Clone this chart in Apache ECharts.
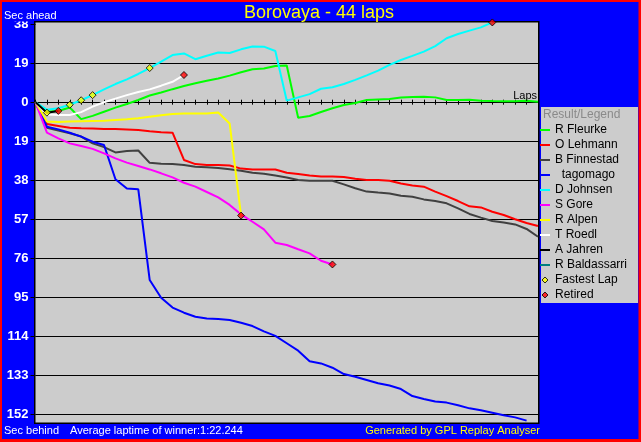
<!DOCTYPE html>
<html>
<head>
<meta charset="utf-8">
<script src="https://cdn.jsdelivr.net/npm/echarts@6/dist/echarts.min.js"></script>
<style>html,body{margin:0;padding:0;background:#ff0000;}#c{width:641px;height:442px;}</style>
</head>
<body>
<div id="c"></div>
<script>
// ---- data (seconds relative to winner's average pace; negative = behind) ----
const title = 'Borovaya - 44 laps';
const yTicks = [38, 19, 0, 19, 38, 57, 76, 95, 114, 133, 152];
const drivers = ['R Fleurke', 'O Lehmann', 'B Finnestad', '  tagomago', 'D Johnsen', 'S Gore', 'R Alpen', 'T Roedl', 'A Jahren', 'R Baldassarri'];
const colors = ['#00ff00', '#ff0000', '#404040', '#0000ff', '#00ffff', '#ff00ff', '#ffff00', '#ffffff', '#000000', '#008080'];

const fleurke = [0, -4.5, -4.2, -2.5, -8.2, -6.6, -4.6, -2.6, -0.8, 1.1, 3.3, 4.8, 6.4, 7.9, 9.3, 10.5, 11.6, 13.0, 14.6, 16.1, 16.5, 17.7, 17.9, -7.5, -6.7, -4.7, -2.9, -1.3, -0.3, 1.1, 1.4, 1.6, 2.3, 2.6, 2.7, 2.4, 1.1, 1.1, 1.3, 0.8, 0.6, 0.5, 0.5, 0.8, 0.3];
const lehmann = [0, -10.6, -11.5, -12.4, -12.7, -12.8, -13.0, -13.0, -13.2, -13.5, -14.1, -14.6, -14.8, -28.1, -30.1, -30.5, -30.6, -30.8, -32.3, -32.7, -32.7, -32.7, -34.3, -34.9, -35.7, -36.2, -36.2, -36.4, -37.2, -37.9, -37.9, -38.2, -39.6, -40.5, -41.1, -43.5, -45.7, -48.1, -50.7, -51.2, -53.3, -54.9, -57.0, -58.8, -60.3];
const finnestad = [0, -12.4, -13.8, -15.1, -16.7, -20.0, -21.8, -24.4, -23.7, -23.5, -29.5, -29.9, -30.1, -30.5, -31.4, -31.7, -32.0, -32.6, -33.3, -34.3, -34.8, -35.7, -36.6, -37.9, -38.2, -38.2, -38.2, -40.0, -41.9, -43.5, -44.0, -44.4, -45.5, -46.0, -47.3, -48.1, -49.2, -51.7, -54.4, -56.2, -57.8, -58.6, -59.5, -61.7, -65.5];
const tagomago = [0, -11.9, -13.2, -14.8, -16.7, -19.2, -20.8, -37.5, -42.0, -42.4, -86.6, -95.2, -100.0, -102.5, -104.5, -105.3, -105.6, -106.1, -107.4, -109.0, -111.6, -113.8, -117.4, -121.0, -126.2, -127.2, -129.3, -132.4, -133.7, -135.3, -136.9, -138.0, -139.7, -143.1, -144.5, -145.8, -146.3, -147.6, -149.1, -150.0, -151.2, -152.5, -153.5, -155.1];
const johnsen = [0, -3.6, -2.9, -1.2, 1.0, 3.5, 6.3, 8.9, 11.2, 13.8, 16.7, 19.8, 23.0, 23.8, 21.0, 22.7, 24.3, 24.0, 25.8, 27.2, 27.1, 25.0, 0.8, 2.4, 4.0, 6.6, 7.3, 8.9, 10.9, 13.1, 15.4, 18.2, 20.6, 22.6, 24.7, 27.4, 31.2, 33.3, 34.9, 36.5, 38.9];
const gore = [0, -14.8, -17.6, -20.0, -21.3, -22.7, -24.9, -27.3, -29.4, -31.0, -32.7, -34.6, -36.6, -39.2, -41.1, -43.7, -46.3, -50.0, -54.6, -58.2, -61.9, -68.4, -69.5, -71.6, -73.6, -77.2, -79.0];
const alpen = [0, -9.4, -9.6, -9.4, -9.2, -9.1, -9.0, -8.6, -8.3, -7.8, -7.0, -6.3, -5.7, -5.4, -5.4, -5.4, -5.0, -10.3, -55.2];
const roedl = [0, -6.0, -6.2, -6.2, -4.8, -2.1, 0.0, 1.8, 3.5, 5.0, 6.3, 8.1, 10.0, 13.3];
const jahren = [0, -5.05, -4.2];
const baldassarri = [];

const fastestLapLaps = [1, 3, 4, 5, 10];
const fastestLapGaps = [-5.05, -1.2, 1.0, 3.5, 16.7];
const retiredLaps = [2, 13, 18, 26, 40];
const retiredGaps = [-4.2, 13.3, -55.2, -79.0, 38.9];

// ---- chart ----
const FONT = "'Liberation Sans', Arial, sans-serif";
const lines = [fleurke, lehmann, finnestad, tagomago, johnsen, gore, alpen, roedl, jahren, baldassarri];
const LINE_ICON = 'path://M0,0H10V2H0Z';
const DIAMOND_ICON = 'path://M5,0L10,5L5,10L0,5Z';

const series = lines.map((arr, i) => ({
  name: drivers[i],
  type: 'line',
  data: arr.map((v, lap) => [lap, v]),
  symbol: 'none',
  clip: false,
  silent: true,
  lineStyle: { width: 2, color: colors[i] },
  itemStyle: { color: colors[i] },
  emphasis: { disabled: true }
}));
series.push({
  name: 'Fastest Lap', type: 'scatter', symbol: 'diamond', symbolSize: 7, clip: false, silent: true, z: 5,
  data: fastestLapLaps.map((l, i) => [l, fastestLapGaps[i]]),
  itemStyle: { color: '#ffff00', borderColor: '#000', borderWidth: 1 }
});
series.push({
  name: 'Retired', type: 'scatter', symbol: 'diamond', symbolSize: 7, clip: false, silent: true, z: 5,
  data: retiredLaps.map((l, i) => [l, retiredGaps[i]]),
  itemStyle: { color: '#ff0000', borderColor: '#000', borderWidth: 1 }
});

const legendData = drivers.map(n => ({ name: n, icon: LINE_ICON }));
legendData.push({ name: 'Fastest Lap', icon: DIAMOND_ICON, itemStyle: { borderWidth: 1, borderColor: '#000' } });
legendData.push({ name: 'Retired', icon: DIAMOND_ICON, itemStyle: { borderWidth: 1, borderColor: '#000' } });

const txt = (text, x, y, color, font, align, z) => ({
  type: 'text', x: x, y: y, z: z || 11, silent: true,
  style: { text: text, fill: color, font: font, align: align || 'left', verticalAlign: 'middle' }
});

const chart = echarts.init(document.getElementById('c'), null, { renderer: 'canvas' });
chart.setOption({
  animation: false,
  backgroundColor: '#ff0000',
  grid: { left: 35.5, right: 103, top: 24.3, bottom: 27.7, outerBoundsMode: 'none', containLabel: false },
  xAxis: [{
    type: 'value', min: 0, max: 44, interval: 1,
    axisLine: { show: true, onZero: true, lineStyle: { color: '#000', width: 1 } },
    axisTick: { show: false }, axisLabel: { show: false }, splitLine: { show: false }
  }, {
    type: 'value', min: 0, max: 44, interval: 1, position: 'bottom', offset: -309.6,
    axisLine: { show: false, onZero: false },
    axisTick: { show: true, inside: true, length: 5, lineStyle: { color: '#000', width: 1 } },
    axisLabel: { show: false }, splitLine: { show: false }
  }],
  yAxis: {
    type: 'value', min: -152, max: 38, interval: 19,
    axisLine: { show: false },
    axisTick: { show: true, length: 5, lineStyle: { color: '#000', width: 1 } },
    axisLabel: {
      color: '#ffffff', fontWeight: 'bold', fontSize: 13, fontFamily: FONT, margin: 7,
      showMinLabel: true, showMaxLabel: true, hideOverlap: false,
      formatter: v => String(yTicks[Math.round((38 - v) / 19)])
    },
    splitLine: { show: true, showMaxLine: false, lineStyle: { color: '#000', width: 1 } }
  },
  legend: {
    orient: 'vertical', left: 540, top: 122.5, padding: 0, itemGap: 0,
    itemWidth: 10, itemHeight: 6, selectedMode: false, symbolKeepAspect: true,
    itemStyle: { borderWidth: 0 },
    textStyle: { color: '#000', fontSize: 12, fontFamily: FONT, lineHeight: 15 },
    data: legendData
  },
  graphic: [
    { type: 'rect', z: -10, silent: true, shape: { x: 2, y: 2, width: 636.5, height: 437 }, style: { fill: '#0000ff' } },
    { type: 'rect', z: -9, silent: true, shape: { x: 34.75, y: 21.75, width: 504, height: 401.5 }, style: { fill: '#cccccc', stroke: '#000', lineWidth: 1.5 } },
    { type: 'rect', z: -9, silent: true, shape: { x: 541, y: 107, width: 97, height: 196 }, style: { fill: '#cccccc' } },
    { type: 'rect', z: 10, silent: true, shape: { x: 2, y: 2, width: 31.5, height: 19.5 }, style: { fill: '#0000ff' } },
    txt('Sec ahead', 4, 15.5, '#ffffff', '11px ' + FONT),
    txt(title, 319, 12.7, '#ffff00', '18px ' + FONT, 'center'),
    txt('Sec behind', 4, 431, '#ffffff', '11px ' + FONT),
    txt('Average laptime of winner:1:22.244', 70, 431, '#ffffff', '11px ' + FONT),
    txt('Generated by GPL Replay Analyser', 540, 431, '#ffff00', '11px ' + FONT, 'right'),
    txt('Laps', 537, 95.5, '#000000', '11px ' + FONT, 'right'),
    txt('Result/Legend', 543, 114.5, '#8a8a8a', '12px ' + FONT)
  ],
  series: series
});
</script>
</body>
</html>
